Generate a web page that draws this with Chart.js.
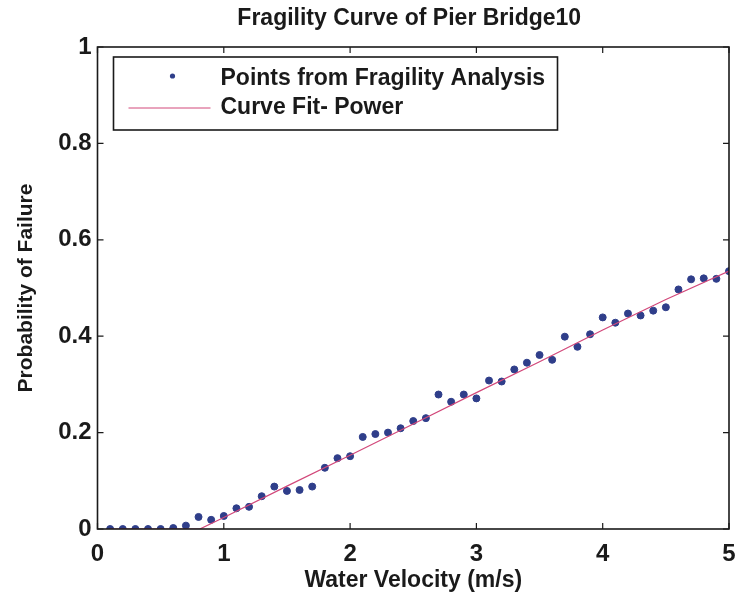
<!DOCTYPE html>
<html>
<head>
<meta charset="utf-8">
<script src="https://cdn.jsdelivr.net/npm/chart.js@4.4.1/dist/chart.umd.min.js"></script>
<style>
  html, body { margin: 0; padding: 0; background: #ffffff; }
  #wrap { width: 735px; height: 602px; position: relative; }
</style>
</head>
<body>
<div id="wrap"><canvas id="c" width="735" height="602"></canvas></div>
<script>
const chartTitle = "Fragility Curve of Pier Bridge10";
const xAxisTitle = "Water Velocity (m/s)";
const yAxisTitle = "Probability of Failure";
const pointsLabel = "Points from Fragility Analysis";
const fitLabel = "Curve Fit- Power";

// Points from fragility analysis (velocity m/s -> probability)
const velocities = [0.1,0.2,0.3,0.4,0.5,0.6,0.7,0.8,0.9,1.0,
  1.1,1.2,1.3,1.4,1.5,1.6,1.7,1.8,1.9,2.0,
  2.1,2.2,2.3,2.4,2.5,2.6,2.7,2.8,2.9,3.0,
  3.1,3.2,3.3,3.4,3.5,3.6,3.7,3.8,3.9,4.0,
  4.1,4.2,4.3,4.4,4.5,4.6,4.7,4.8,4.9,5.0];
const probabilities = [0,0,0,0,0,0.002,0.007,0.025,0.019,0.027,
  0.043,0.046,0.068,0.088,0.079,0.081,0.088,0.127,0.147,0.151,
  0.191,0.197,0.200,0.209,0.224,0.230,0.279,0.264,0.279,0.271,
  0.308,0.306,0.331,0.345,0.361,0.351,0.399,0.378,0.404,0.439,
  0.428,0.447,0.443,0.453,0.460,0.497,0.518,0.520,0.519,0.535];

// Power curve fit
const fitVelocities = [0.1,0.5,0.81,1.0,1.5,2.0,2.5,3.0,3.5,4.0,4.5,5.0];
const fitProbabilities = [0,0,0,0.024,0.089,0.153,0.218,0.283,0.347,0.413,0.476,0.535];

const xTicks = [0,1,2,3,4,5];
const yTicks = [0,0.2,0.4,0.6,0.8,1];

const pointColor = '#2f3e8a';
const fitColor = '#d2487a';
const FONT = "'Liberation Sans', Arial, sans-serif";

const boxPlugin = {
  id: 'boxPlugin',
  afterDraw(chart) {
    const ctx = chart.ctx;
    const a = chart.chartArea;
    const xs = chart.scales.x, ys = chart.scales.y;
    ctx.save();
    // frame
    ctx.strokeStyle = '#1a1a1a';
    ctx.lineWidth = 1.6;
    ctx.strokeRect(a.left, a.top, a.right - a.left, a.bottom - a.top);
    // inward ticks
    ctx.lineWidth = 1.2;
    ctx.beginPath();
    xTicks.forEach(v => {
      const px = xs.getPixelForValue(v);
      ctx.moveTo(px, a.bottom); ctx.lineTo(px, a.bottom - 6);
      ctx.moveTo(px, a.top); ctx.lineTo(px, a.top + 6);
    });
    yTicks.forEach(v => {
      const py = ys.getPixelForValue(v);
      ctx.moveTo(a.left, py); ctx.lineTo(a.left + 6, py);
      ctx.moveTo(a.right, py); ctx.lineTo(a.right - 6, py);
    });
    ctx.stroke();
    // title
    ctx.fillStyle = '#1a1a1a';
    ctx.font = "bold 23px " + FONT;
    ctx.textAlign = 'center';
    ctx.textBaseline = 'middle';
    ctx.fillText(chartTitle, (a.left + a.right) / 2 - 4, 19);
    // legend
    const lx = a.left + 16, ly = a.top + 10, lw = 444, lh = 73;
    ctx.fillStyle = '#ffffff';
    ctx.fillRect(lx, ly, lw, lh);
    ctx.strokeStyle = '#1a1a1a';
    ctx.lineWidth = 1.6;
    ctx.strokeRect(lx, ly, lw, lh);
    ctx.fillStyle = pointColor;
    ctx.beginPath();
    ctx.arc(lx + 59, ly + 19, 2.6, 0, Math.PI * 2);
    ctx.fill();
    ctx.strokeStyle = fitColor;
    ctx.lineWidth = 1;
    ctx.beginPath();
    ctx.moveTo(lx + 15, ly + 51); ctx.lineTo(lx + 97, ly + 51);
    ctx.stroke();
    ctx.fillStyle = '#1a1a1a';
    ctx.font = "bold 23px " + FONT;
    ctx.textAlign = 'left';
    ctx.fillText(chart.data.datasets[0].label, lx + 107, ly + 22);
    ctx.fillText(chart.data.datasets[1].label, lx + 107, ly + 51);
    ctx.restore();
  }
};

new Chart(document.getElementById('c'), {
  type: 'scatter',
  data: {
    datasets: [
      {
        label: pointsLabel,
        data: velocities.map((v, i) => ({ x: v, y: probabilities[i] })),
        backgroundColor: pointColor,
        borderColor: pointColor,
        pointRadius: 3.5,
        pointHoverRadius: 3.5,
        showLine: false,
        order: 1
      },
      {
        label: fitLabel,
        data: fitVelocities.map((v, i) => ({ x: v, y: fitProbabilities[i] })),
        borderColor: fitColor,
        backgroundColor: fitColor,
        borderWidth: 1.2,
        pointRadius: 0,
        showLine: true,
        order: 0
      }
    ]
  },
  options: {
    responsive: false,
    animation: false,
    layout: { padding: { top: 47, right: 0, left: 0, bottom: 0 } },
    plugins: {
      legend: { display: false },
      title: { display: false },
      tooltip: { enabled: false }
    },
    scales: {
      x: {
        type: 'linear',
        min: 0, max: 5,
        afterFit(s) { s.height = 73; s.paddingRight = 6; s.paddingLeft = 0; },
        afterBuildTicks(s) { s.ticks = xTicks.map(v => ({ value: v })); },
        grid: { display: false, drawTicks: false },
        border: { display: false },
        ticks: { color: '#1a1a1a', padding: 11, font: { family: FONT, size: 24, weight: 'bold' },
                 callback: v => String(+Number(v).toFixed(1)) },
        title: { display: true, text: xAxisTitle, color: '#1a1a1a', padding: 8, font: { family: FONT, size: 23, weight: 'bold' } }
      },
      y: {
        type: 'linear',
        min: 0, max: 1,
        afterFit(s) { s.width = 97.5; },
        afterBuildTicks(s) { s.ticks = yTicks.map(v => ({ value: v })); },
        grid: { display: false, drawTicks: false },
        border: { display: false },
        ticks: { color: '#1a1a1a', padding: 6, font: { family: FONT, size: 24, weight: 'bold' },
                 callback: v => String(+Number(v).toFixed(1)) },
        title: { display: true, text: yAxisTitle, color: '#1a1a1a', padding: 14, font: { family: FONT, size: 21, weight: 'bold' } }
      }
    }
  },
  plugins: [boxPlugin]
});
</script>
</body>
</html>
